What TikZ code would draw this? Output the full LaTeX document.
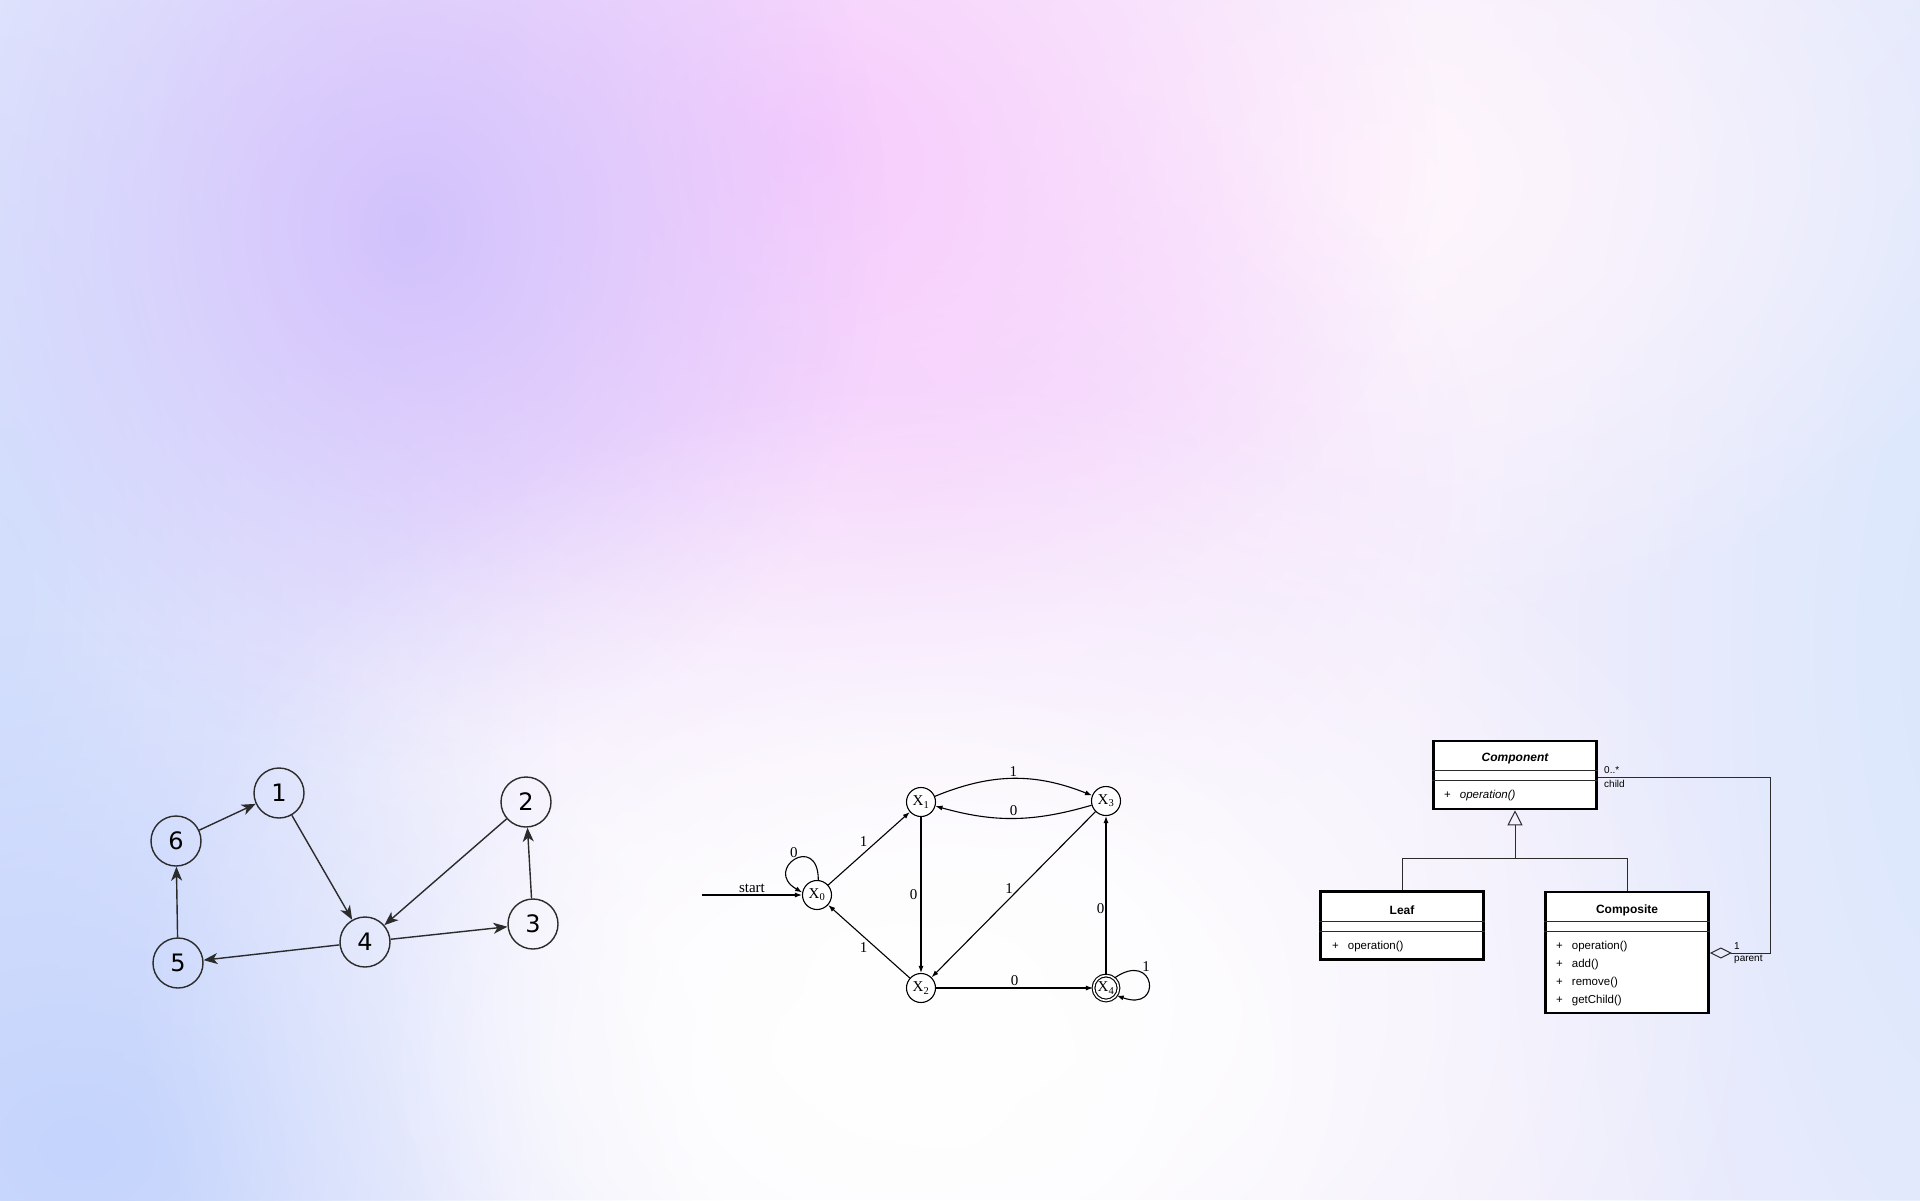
\documentclass[tikz,border=0pt]{standalone}
\usepackage{fontspec}
\setmainfont{Liberation Serif}
\newfontfamily\umlfont{Liberation Sans}
\newfontfamily\graphfont{DejaVu Sans}
\usepackage{tikz}
\usetikzlibrary{arrows,arrows.meta}
\usetikzlibrary{shapes,positioning,calc,fadings}

\definecolor{bgbase}{HTML}{F4EEFC}
\definecolor{bgleft}{HTML}{D2DEFD}
\definecolor{bgblue}{HTML}{C4D4FC}
\definecolor{bgright}{HTML}{D9E7FD}
\definecolor{bgpurple}{HTML}{D2C2FD}
\definecolor{bgpink}{HTML}{F8CCFD}
\definecolor{bgrose}{HTML}{F6DCFC}
\definecolor{bgblush}{HTML}{FFF6FC}
\definecolor{ink}{HTML}{2B2B2B}

\tikzfading[name=fuzzy, inner color=transparent!0, outer color=transparent!100]

\tikzset{
	vertex/.style={circle, draw=ink, line width=1.4pt, minimum size=50pt, inner sep=0pt, font=\graphfont\fontsize{24}{24}\selectfont},
	edge/.style={draw=ink, line width=1.4pt, -{Stealth[length=14pt,width=11pt,inset=4pt]}},
	state/.style={circle, draw, line width=1.1pt, minimum size=29pt, inner sep=0pt, fill=white, font=\fontsize{15}{15}\selectfont},
	accept/.style={state, double, double distance=1.6pt, minimum size=25pt},
	trans/.style={line width=1.1pt, -{Latex[length=7pt,width=5pt]}, font=\fontsize{15}{15}\selectfont},
	classbox/.style={draw=black, line width=2.6pt, fill=white, inner sep=0pt, minimum width=163pt},
	sep/.style={line width=0.9pt, draw=ink},
	umltext/.style={font=\umlfont\fontsize{11.5}{12}\selectfont, inner sep=0pt, anchor=west},
	umlline/.style={line width=1pt, draw=ink}
}

\begin{document}
\begin{tikzpicture}[x=1pt,y=-1pt]
	\useasboundingbox (0,0) rectangle (1920,1200);
	\fill[bgbase] (0,0) rectangle (1920,1200);
	\fill[bgleft, path fading=fuzzy] (0,600) ellipse (560pt and 1500pt);
	\fill[bgright, path fading=fuzzy] (1980,650) ellipse (560pt and 1500pt);
	\fill[bgblue, path fading=fuzzy] (80,1150) ellipse (650pt and 520pt);
	\fill[bgblush, path fading=fuzzy] (1380,180) ellipse (640pt and 460pt);
	\fill[bgrose, path fading=fuzzy] (920,480) ellipse (560pt and 420pt);
	\fill[bgpink, path fading=fuzzy] (800,150) ellipse (640pt and 520pt);
	\fill[bgpurple, path fading=fuzzy] (410,230) ellipse (480pt and 540pt);
	\fill[white, path fading=fuzzy] (950,1000) ellipse (820pt and 620pt);
	\fill[white, path fading=fuzzy] (900,1060) ellipse (520pt and 400pt);

	\node[vertex] (n1) at (279,793) {1};
	\node[vertex] (n2) at (526,802) {2};
	\node[vertex] (n3) at (533,924) {3};
	\node[vertex] (n4) at (365,942) {4};
	\node[vertex] (n5) at (178,963) {5};
	\node[vertex] (n6) at (176,841) {6};
	\draw[edge] (n6) -- (n1);
	\draw[edge] (n1) -- (n4);
	\draw[edge] (n2) -- (n4);
	\draw[edge] (n3) -- (n2);
	\draw[edge] (n4) -- (n3);
	\draw[edge] (n4) -- (n5);
	\draw[edge] (n5) -- (n6);

	\node[state] (x0) at (817,895) {X\textsubscript{0}};
	\node[state] (x1) at (921,802) {X\textsubscript{1}};
	\node[state] (x3) at (1106,801) {X\textsubscript{3}};
	\node[state] (x2) at (921,988) {X\textsubscript{2}};
	\node[accept] (x4) at (1106,988) {X\textsubscript{4}};
	\coordinate (start) at (702,895);
	\draw[trans] (start) -- node[above, inner sep=2pt] {start} (x0);
	\draw[trans] (x0.85) .. controls +(90:48pt) and +(150:46pt) .. node[above left, pos=0.45, inner sep=0pt] {0} (x0.170);
	\draw[trans] (x0) -- node[above left, inner sep=1pt] {1} (x1);
	\draw[trans] (x1) to[bend left=22] node[above, inner sep=2pt] {1} (x3);
	\draw[trans] (x3) to[bend left=16] node[above, inner sep=2pt] {0} (x1);
	\draw[trans] (x1) -- node[left, inner sep=3pt] {0} (x2);
	\draw[trans] (x3) -- node[above left, inner sep=0pt] {1} (x2);
	\draw[trans] (x2) -- node[below left, inner sep=1pt] {1} (x0);
	\draw[trans] (x2) -- node[above, inner sep=2pt] {0} (x4);
	\draw[trans] (x4) -- node[left, pos=0.42, inner sep=1pt] {0} (x3);
	\draw[trans] (x4.50) .. controls +(35:50pt) and +(-20:50pt) .. node[above right, pos=0.3, inner sep=0pt] {1} (x4.-35);

	\node[classbox, minimum height=68pt] (component) at (1515,775) {};
	\node[classbox, minimum height=68pt] (leaf) at (1402,925.5) {};
	\node[classbox, minimum height=121pt] (composite) at (1627,952.5) {};
	\draw[sep] ($(component.north west)+(0,31)$) -- ($(component.north east)+(0,31)$);
	\draw[sep] ($(component.north west)+(0,41)$) -- ($(component.north east)+(0,41)$);
	\draw[sep] ($(leaf.north west)+(0,31)$) -- ($(leaf.north east)+(0,31)$);
	\draw[sep] ($(leaf.north west)+(0,41)$) -- ($(leaf.north east)+(0,41)$);
	\draw[sep] ($(composite.north west)+(0,31)$) -- ($(composite.north east)+(0,31)$);
	\draw[sep] ($(composite.north west)+(0,41)$) -- ($(composite.north east)+(0,41)$);
	\node[umltext, anchor=center, font=\umlfont\bfseries\itshape\fontsize{12}{12}\selectfont] (componentname) at (1515,759) {Component};
	\node[umltext] (componentop) at (1444,796) {+\hspace{9pt}\itshape operation()};
	\node[umltext, anchor=center, font=\umlfont\bfseries\fontsize{12}{12}\selectfont] (leafname) at (1402,910) {Leaf};
	\node[umltext] (leafop) at (1332,946.5) {+\hspace{9pt}operation()};
	\node[umltext, anchor=center, font=\umlfont\bfseries\fontsize{12}{12}\selectfont] (compositename) at (1627,910) {Composite};
	\node[umltext] (compositeop1) at (1556,946.5) {+\hspace{9pt}operation()};
	\node[umltext] (compositeop2) at (1556,964.5) {+\hspace{9pt}add()};
	\node[umltext] (compositeop3) at (1556,982.5) {+\hspace{9pt}remove()};
	\node[umltext] (compositeop4) at (1556,1000.5) {+\hspace{9pt}getChild()};

	\coordinate (fork) at (1515,858);
	\draw[umlline] (leaf.north) |- (fork) -| (composite.north);
	\draw[umlline, -{Triangle[open,length=15pt,width=15pt]}] (fork) -- (component.south);
	\coordinate (aggr) at ($(composite.east)+(0,0.5)$);
	\coordinate (child) at ($(component.east)+(0,2)$);
	\draw[umlline, {Diamond[open,length=22pt,width=11pt]}-] (aggr) -- ++(61,0) |- (child);
	\node[umltext, font=\umlfont\fontsize{10}{10}\selectfont] (childmult) at (1604,770) {0..*};
	\node[umltext, font=\umlfont\fontsize{10}{10}\selectfont] (childrole) at (1604,783.5) {child};
	\node[umltext, font=\umlfont\fontsize{10}{10}\selectfont] (parentmult) at (1734,946.5) {1};
	\node[umltext, font=\umlfont\fontsize{10}{10}\selectfont] (parentrole) at (1734,959.5) {parent};
\end{tikzpicture}
\end{document}
